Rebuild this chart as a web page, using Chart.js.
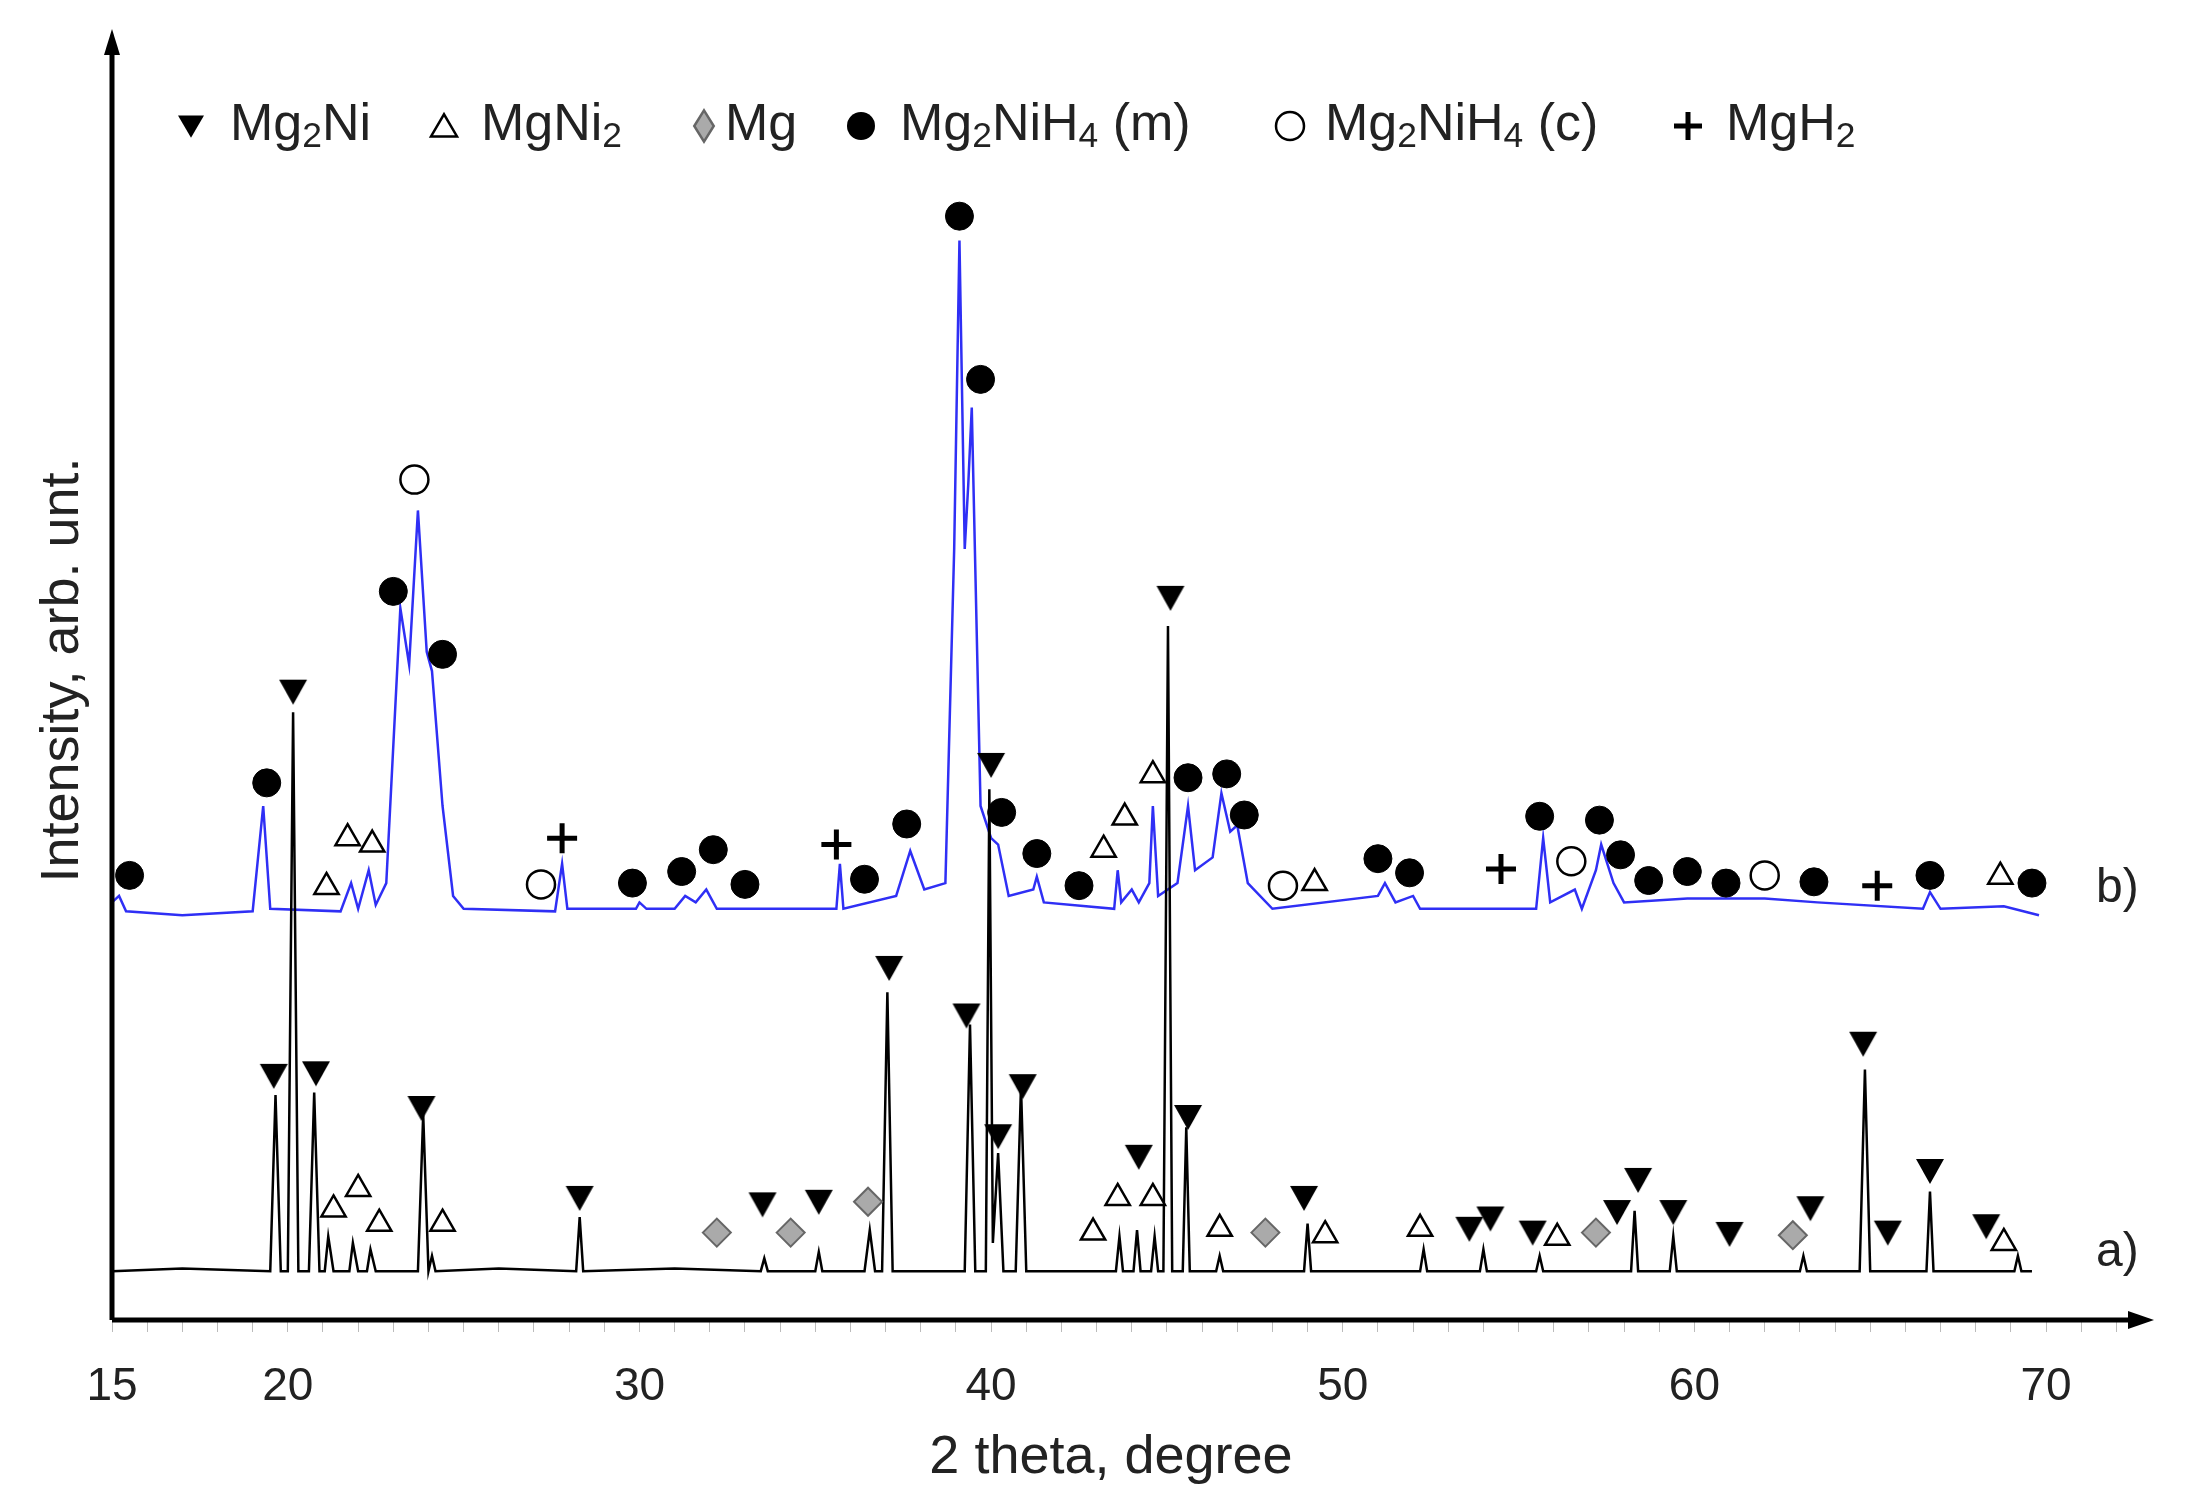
<!DOCTYPE html>
<html><head><meta charset="utf-8">
<script src="https://cdn.jsdelivr.net/npm/chart.js@4"></script>
<style>html,body{margin:0;padding:0;background:#fff}#w{width:2187px;height:1504px}</style>
</head><body><div id="w"><canvas id="c"></canvas></div>
<script>
// ---- data (2 theta, intensity arb.) ----
const xTickLabels = [15, 20, 30, 40, 50, 60, 70];
const curveA = [[15,3.8],[17,4.0],[19.5,3.8],[19.65,17.5],[19.8,3.8],[20.0,3.8],[20.15,47.3],[20.3,3.8],[20.6,3.8],[20.75,17.7],[20.9,3.8],[21.05,3.8],[21.15,6.5],[21.3,3.8],[21.75,3.8],[21.85,6.0],[22.0,3.8],[22.25,3.8],[22.35,5.5],[22.5,3.8],[23.7,3.8],[23.85,16.0],[24.0,3.8],[24.1,5.0],[24.2,3.8],[26,4.0],[28.2,3.8],[28.3,8.0],[28.4,3.8],[31,4.0],[33.45,3.8],[33.55,4.8],[33.65,3.8],[35.0,3.8],[35.1,5.3],[35.2,3.8],[36.4,3.8],[36.55,7.0],[36.7,3.8],[36.9,3.8],[37.05,25.5],[37.2,3.8],[39.25,3.8],[39.4,23.0],[39.55,3.8],[39.85,3.8],[39.95,41.3],[40.05,6],[40.2,13],[40.35,3.8],[40.7,3.8],[40.85,18.2],[41.0,3.8],[43.55,3.8],[43.65,6.5],[43.75,3.8],[44.05,3.8],[44.15,7.0],[44.25,3.8],[44.55,3.8],[44.65,6.5],[44.75,3.8],[44.9,3.8],[45.03,54],[45.15,3.8],[45.45,3.8],[45.55,15],[45.65,3.8],[46.4,3.8],[46.5,5],[46.6,3.8],[48.9,3.8],[49.0,7.5],[49.1,3.8],[52.2,3.8],[52.3,5.5],[52.4,3.8],[53.9,3.8],[54.0,5.5],[54.1,3.8],[55.5,3.8],[55.6,5],[55.7,3.8],[58.2,3.8],[58.3,8.5],[58.4,3.8],[59.3,3.8],[59.4,6.5],[59.5,3.8],[63.0,3.8],[63.1,5],[63.2,3.8],[64.7,3.8],[64.85,19.5],[65.0,3.8],[66.6,3.8],[66.7,10],[66.8,3.8],[69.1,3.8],[69.2,5],[69.3,3.8],[69.6,3.8]];
const curveB = [[15,32.5],[15.2,33],[15.4,31.8],[17,31.5],[19.0,31.8],[19.3,40],[19.5,32],[21.5,31.8],[21.8,34],[22.0,32],[22.3,35],[22.5,32.3],[22.8,34],[23.2,55.4],[23.45,51],[23.7,63.0],[23.95,52],[24.1,50.5],[24.4,40],[24.7,33],[25,32],[27.6,31.8],[27.8,35.5],[27.95,32],[29.9,32],[30,32.5],[30.2,32],[31,32],[31.3,33],[31.6,32.5],[31.9,33.5],[32.2,32],[35.6,32],[35.7,35.5],[35.8,32],[37.3,33],[37.7,36.5],[38.1,33.5],[38.7,34],[38.95,60],[39.1,84],[39.25,60],[39.35,65],[39.45,71],[39.7,40],[40.0,37.5],[40.2,37],[40.5,33],[41.2,33.5],[41.3,34.5],[41.5,32.5],[43.5,32],[43.6,35],[43.7,32.5],[44.0,33.5],[44.2,32.5],[44.5,34],[44.6,40],[44.75,33],[45.3,34],[45.6,40],[45.8,35],[46.3,36],[46.55,41],[46.8,38],[47.0,38.5],[47.3,34],[48,32],[51.0,33],[51.2,34],[51.5,32.5],[52.0,33],[52.2,32],[55.5,32],[55.7,37.5],[55.9,32.5],[56.6,33.5],[56.8,32],[57.2,35],[57.35,37],[57.7,34],[58.0,32.5],[59.8,32.8],[62,32.8],[63.5,32.5],[66.5,32],[66.7,33.3],[67,32],[68.8,32.2],[69.8,31.5]];
const mg2Ni = [[19.6,19.0],[20.8,19.2],[20.15,48.9],[23.8,16.5],[28.3,9.5],[33.5,9.0],[35.1,9.2],[37.1,27.4],[39.3,23.7],[40.0,43.2],[40.2,14.3],[40.9,18.2],[44.2,12.7],[45.1,56.2],[45.6,15.8],[48.9,9.5],[53.6,7.1],[54.2,7.9],[55.4,6.8],[57.8,8.4],[58.4,10.9],[59.4,8.4],[61.0,6.7],[63.3,8.7],[64.8,21.5],[65.5,6.8],[66.7,11.6],[68.3,7.3]];
const mgNi2 = [[21.3,8.6],[22.0,10.2],[22.6,7.5],[24.4,7.5],[42.9,6.8],[43.6,9.5],[44.6,9.5],[46.5,7.1],[49.5,6.6],[52.2,7.1],[56.1,6.4],[68.8,6.0],[21.1,33.7],[21.7,37.5],[22.4,37.0],[43.2,36.6],[43.8,39.1],[44.6,42.4],[49.2,34.0],[68.7,34.5]];
const mg = [[32.2,6.8],[34.3,6.8],[36.5,9.2],[47.8,6.8],[57.2,6.8],[62.8,6.6]];
const mg2NiH4m = [[15.5,34.6],[19.4,41.8],[23.0,56.7],[24.4,51.8],[29.8,34.0],[31.2,34.9],[32.1,36.6],[33.0,33.9],[36.4,34.3],[37.6,38.6],[39.1,85.9],[39.7,73.2],[40.3,39.5],[41.3,36.3],[42.5,33.8],[45.6,42.2],[46.7,42.5],[47.2,39.3],[51.0,35.9],[51.9,34.8],[55.6,39.2],[57.3,38.9],[57.9,36.2],[58.7,34.2],[59.8,34.9],[60.9,34.0],[63.4,34.1],[66.7,34.6],[69.6,34.0]];
const mg2NiH4c = [[23.6,65.4],[27.2,33.9],[48.3,33.8],[56.5,35.7],[62.0,34.6]];
const mgH2 = [[27.8,37.5],[35.6,37.0],[54.5,35.1],[65.2,33.8]];

const toPts = a => a.map(p => ({x: p[0], y: p[1]}));
const FONT = '"Liberation Sans Narrow","Liberation Sans",Arial,sans-serif';

function sub(ctx, parts, x, y, size) {
  for (const [t, s] of parts) {
    ctx.font = (s ? size*0.68 : size) + 'px ' + FONT;
    ctx.fillText(t, x, y + (s ? size*0.22 : 0));
    x += ctx.measureText(t).width;
  }
}
function marker(ctx, kind, x, y, r) {
  ctx.save(); ctx.lineWidth = 2.5; ctx.strokeStyle = '#000'; ctx.beginPath();
  if (kind === 'down') { ctx.moveTo(x-r, y-r*0.8); ctx.lineTo(x+r, y-r*0.8); ctx.lineTo(x, y+r*0.9); ctx.closePath(); ctx.fillStyle='#000'; ctx.fill(); }
  else if (kind === 'up') { ctx.moveTo(x-r, y+r*0.8); ctx.lineTo(x+r, y+r*0.8); ctx.lineTo(x, y-r*0.9); ctx.closePath(); ctx.fillStyle='#fff'; ctx.fill(); ctx.stroke(); }
  else if (kind === 'dia') { ctx.moveTo(x, y-r*1.2); ctx.lineTo(x+r*0.75, y); ctx.lineTo(x, y+r*1.2); ctx.lineTo(x-r*0.75, y); ctx.closePath(); ctx.fillStyle='#aaa'; ctx.fill(); ctx.strokeStyle='#666'; ctx.stroke(); }
  else if (kind === 'dot') { ctx.arc(x, y, r, 0, 7); ctx.fillStyle='#000'; ctx.fill(); }
  else if (kind === 'ring') { ctx.arc(x, y, r, 0, 7); ctx.fillStyle='#fff'; ctx.fill(); ctx.stroke(); }
  else if (kind === 'plus') { ctx.lineWidth = 5; ctx.moveTo(x-r, y); ctx.lineTo(x+r, y); ctx.moveTo(x, y-r); ctx.lineTo(x, y+r); ctx.stroke(); }
  ctx.restore();
}

const deco = {
  id: 'deco',
  afterDraw(chart) {
    const ctx = chart.ctx, a = chart.chartArea;
    ctx.save();
    // axes with arrows
    ctx.strokeStyle = '#000'; ctx.fillStyle = '#000'; ctx.lineWidth = 5;
    ctx.beginPath(); ctx.moveTo(a.left, a.bottom); ctx.lineTo(a.right - 12, a.bottom); ctx.moveTo(a.left, a.bottom); ctx.lineTo(a.left, a.top + 12); ctx.stroke();
    ctx.beginPath(); ctx.moveTo(a.right+6, a.bottom); ctx.lineTo(a.right-20, a.bottom-9); ctx.lineTo(a.right-20, a.bottom+9); ctx.closePath(); ctx.fill();
    ctx.beginPath(); ctx.moveTo(a.left, a.top-6); ctx.lineTo(a.left-8, a.top+20); ctx.lineTo(a.left+8, a.top+20); ctx.closePath(); ctx.fill();
    // titles
    ctx.fillStyle = '#222'; ctx.textBaseline = 'middle';
    ctx.font = '54px ' + FONT; ctx.textAlign = 'center';
    ctx.fillText('2 theta, degree', (a.left + 2050) / 2 + 30, 1458);
    ctx.save(); ctx.translate(63, 670); ctx.rotate(-Math.PI/2); ctx.fillText('Intensity, arb. unt.', 0, 0); ctx.restore();
    ctx.textAlign = 'left'; ctx.font = '48px ' + FONT;
    ctx.fillText('b)', 2096, 889); ctx.fillText('a)', 2096, 1253);
    // legend
    const ly = 126, fs = 52;
    marker(ctx, 'down', 191, ly, 13); sub(ctx, [['Mg',0],['2',1],['Ni',0]], 230, ly, fs);
    marker(ctx, 'up', 444, ly, 13); sub(ctx, [['MgNi',0],['2',1]], 481, ly, fs);
    marker(ctx, 'dia', 704, ly, 13); sub(ctx, [['Mg',0]], 725, ly, fs);
    marker(ctx, 'dot', 861, ly, 14); sub(ctx, [['Mg',0],['2',1],['NiH',0],['4',1],[' (m)',0]], 900, ly, fs);
    marker(ctx, 'ring', 1290, ly, 14); sub(ctx, [['Mg',0],['2',1],['NiH',0],['4',1],[' (c)',0]], 1325, ly, fs);
    marker(ctx, 'plus', 1688, ly, 14); sub(ctx, [['MgH',0],['2',1]], 1726, ly, fs);
    ctx.restore();
  }
};

const triDown = (() => { const c = document.createElement('canvas'); c.width = 30; c.height = 28; const g = c.getContext('2d'); g.beginPath(); g.moveTo(1,2); g.lineTo(29,2); g.lineTo(15,27); g.closePath(); g.fillStyle='#000'; g.fill(); return c; })();

new Chart(document.getElementById('c'), {
  type: 'scatter',
  data: { datasets: [
    { label: 'b', data: toPts(curveB), showLine: true, borderColor: '#2f2ff5', borderWidth: 2.5, pointRadius: 0, order: 3 },
    { label: 'a', data: toPts(curveA), showLine: true, borderColor: '#000', borderWidth: 2.5, pointRadius: 0, order: 2 },
    { label: 'Mg2Ni', data: toPts(mg2Ni), pointStyle: triDown, order: 1 },
    { label: 'MgNi2', data: toPts(mgNi2), pointStyle: 'triangle', pointRadius: 14, backgroundColor: '#fff', borderColor: '#000', borderWidth: 2.5, order: 1 },
    { label: 'Mg', data: toPts(mg), pointStyle: 'rectRot', pointRadius: 14, backgroundColor: '#aaa', borderColor: '#666', borderWidth: 2, order: 1 },
    { label: 'Mg2NiH4 (m)', data: toPts(mg2NiH4m), pointStyle: 'circle', pointRadius: 14, backgroundColor: '#000', borderColor: '#000', order: 1 },
    { label: 'Mg2NiH4 (c)', data: toPts(mg2NiH4c), pointStyle: 'circle', pointRadius: 14, backgroundColor: '#fff', borderColor: '#000', borderWidth: 2.5, order: 1 },
    { label: 'MgH2', data: toPts(mgH2), pointStyle: 'cross', pointRadius: 15, borderColor: '#000', borderWidth: 5, order: 1 }
  ]},
  options: {
    responsive: true, maintainAspectRatio: false, animation: false,
    layout: { padding: { left: 112, top: 35, right: 39, bottom: 0 } },
    plugins: { legend: { display: false }, tooltip: { enabled: false } },
    scales: {
      x: { type: 'linear', min: 15, max: 72.9,
        afterBuildTicks: s => { const t = []; for (let v = 15; v <= 72; v++) t.push({ value: v }); s.ticks = t; },
        afterFit: s => { s.height = 184; },
        border: { display: false },
        grid: { drawOnChartArea: false, drawTicks: true, tickLength: 12, color: '#bbb' },
        ticks: { autoSkip: false, maxRotation: 0, padding: 28, color: '#222', font: { size: 46, family: FONT },
          callback: v => xTickLabels.includes(v) ? String(v) : '' } },
      y: { display: false, min: 0, max: 100 }
    }
  },
  plugins: [deco]
});
</script></body></html>
